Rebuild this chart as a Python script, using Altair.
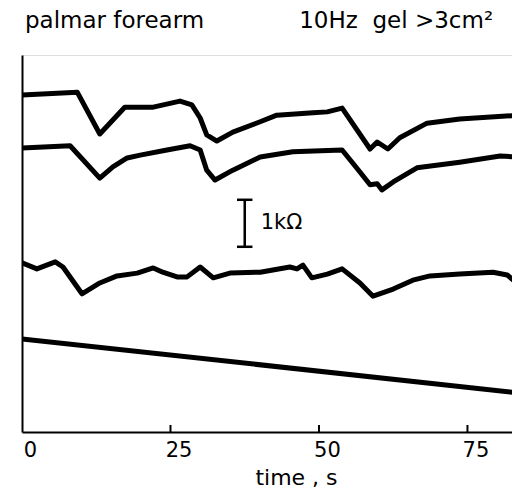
import altair as alt
import pandas as pd

# time (s) and resistance (kOhm, arbitrary offset) of the four traces
t1 = [0, 9.3, 13.1, 17.3, 22.1, 26.6, 28.6, 30.0, 31.1, 32.8, 35.5, 40.1, 42.9, 49.0, 51.4, 53.9, 58.6, 59.8, 61.6, 63.6, 68.2, 73.7, 83.8]
r1 = [7.17, 7.23, 6.34, 6.91, 6.91, 7.04, 6.96, 6.68, 6.32, 6.19, 6.38, 6.60, 6.74, 6.79, 6.81, 6.89, 6.02, 6.17, 6.02, 6.26, 6.57, 6.66, 6.74]

t2 = [0, 8.1, 13.1, 15.3, 17.7, 19.9, 24.4, 28.3, 30.0, 31.1, 32.5, 35.5, 40.1, 45.6, 53.9, 56.9, 58.6, 59.8, 60.6, 62.5, 66.5, 73.7, 80.5, 83.8]
r2 = [6.04, 6.09, 5.40, 5.64, 5.83, 5.89, 6.00, 6.09, 6.00, 5.57, 5.36, 5.57, 5.85, 5.96, 6.00, 5.53, 5.26, 5.28, 5.15, 5.32, 5.62, 5.74, 5.87, 5.85]

t3 = [0, 2.5, 5.6, 6.9, 10.1, 13.1, 16.0, 19.4, 22.1, 23.7, 26.1, 27.8, 30.0, 32.2, 35.0, 40.1, 45.1, 46.3, 47.3, 48.8, 51.4, 53.9, 56.9, 59.1, 62.5, 65.8, 68.7, 73.7, 79.3, 81.7, 83.5]
r3 = [3.60, 3.47, 3.62, 3.51, 2.94, 3.17, 3.32, 3.38, 3.49, 3.40, 3.30, 3.30, 3.51, 3.28, 3.38, 3.40, 3.51, 3.47, 3.55, 3.28, 3.36, 3.47, 3.17, 2.89, 3.04, 3.23, 3.32, 3.36, 3.40, 3.34, 3.15]

t4 = [0, 83.8]
r4 = [1.98, 0.83]

tick_times = [0, 25, 50, 75]
inner_ticks = [25, 50, 75]

# 1 kOhm scale bar
bar_time = [37.5]
bar_low = [3.94]
bar_high = [4.94]
cap_from = [36.2]
cap_to = [38.8]
bar_label = ["1kΩ"]
label_time = [40.2]
label_r = [4.45]

NB = "\u00a0"
title_text = "palmar" + NB + "forearm" + NB * 13 + "10Hz" + NB * 2 + "gel" + NB + ">3cm²"
x_title = "time , s"

FONT = "DejaVu Sans"
XMAX = 82.5
YMAX = 8.02

rows = []
for name, ts, rs in [("a", t1, r1), ("b", t2, r2), ("c", t3, r3), ("d", t4, r4)]:
    for t, r in zip(ts, rs):
        rows.append({"trace": name, "t": t, "r": r})
traces = pd.DataFrame(rows)

xs = alt.Scale(domain=[0, XMAX], nice=False, zero=False)
ys = alt.Scale(domain=[0, YMAX], nice=False, zero=False)

lines = alt.Chart(traces).mark_line(
    color="black", strokeWidth=5, strokeJoin="round", strokeCap="round", clip=True
).encode(
    x=alt.X("t:Q", scale=xs, title=x_title,
            axis=alt.Axis(values=tick_times, ticks=False, grid=False, domain=True,
                          domainColor="black", domainWidth=2, labelFont=FONT,
                          labelFontSize=21, labelColor="black", labelPadding=7,
                          labelOffset=8, labelFlush=False, labelOverlap=False,
                          titleFont=FONT, titleFontSize=22, titleFontWeight="normal",
                          titleColor="black", titleX=274, titleY=52,
                          titleBaseline="alphabetic", titleAlign="center")),
    y=alt.Y("r:Q", scale=ys, title=None,
            axis=alt.Axis(labels=False, ticks=False, grid=False, domain=True,
                          domainColor="black", domainWidth=2)),
    detail="trace:N",
)

tick_df = pd.DataFrame({"t": inner_ticks})
ticks = alt.Chart(tick_df).mark_rule(color="black", strokeWidth=2).encode(
    x=alt.X("t:Q", scale=xs),
    y=alt.value(377),
    y2=alt.value(370),
)

bar_df = pd.DataFrame({"t": bar_time, "lo": bar_low, "hi": bar_high,
                       "c0": cap_from, "c1": cap_to})
bar_v = alt.Chart(bar_df).mark_rule(color="black", strokeWidth=2.5).encode(
    x=alt.X("t:Q", scale=xs), y=alt.Y("lo:Q", scale=ys), y2="hi:Q")
cap_lo = alt.Chart(bar_df).mark_rule(color="black", strokeWidth=2.5).encode(
    x=alt.X("c0:Q", scale=xs), x2="c1:Q", y=alt.Y("lo:Q", scale=ys))
cap_hi = alt.Chart(bar_df).mark_rule(color="black", strokeWidth=2.5).encode(
    x=alt.X("c0:Q", scale=xs), x2="c1:Q", y=alt.Y("hi:Q", scale=ys))

lab_df = pd.DataFrame({"t": label_time, "r": label_r, "txt": bar_label})
lab = alt.Chart(lab_df).mark_text(
    font=FONT, fontSize=21, align="left", baseline="middle", color="black"
).encode(x=alt.X("t:Q", scale=xs), y=alt.Y("r:Q", scale=ys), text="txt:N")

chart = alt.layer(lines, ticks, bar_v, cap_lo, cap_hi, lab).properties(
    width=490,
    height=377,
    autosize=alt.AutoSizeParams(type="none"),
    padding={"left": 14, "top": 47, "right": 0, "bottom": 56},
    title=alt.TitleParams(title_text, anchor="start", font=FONT, fontSize=23,
                          fontWeight="normal", color="black", dx=3,
                          baseline="alphabetic", offset=4, frame="group"),
).configure_view(stroke=None).configure(background="white")

chart.save("out.html", embed_options={"renderer": "svg", "actions": False})
